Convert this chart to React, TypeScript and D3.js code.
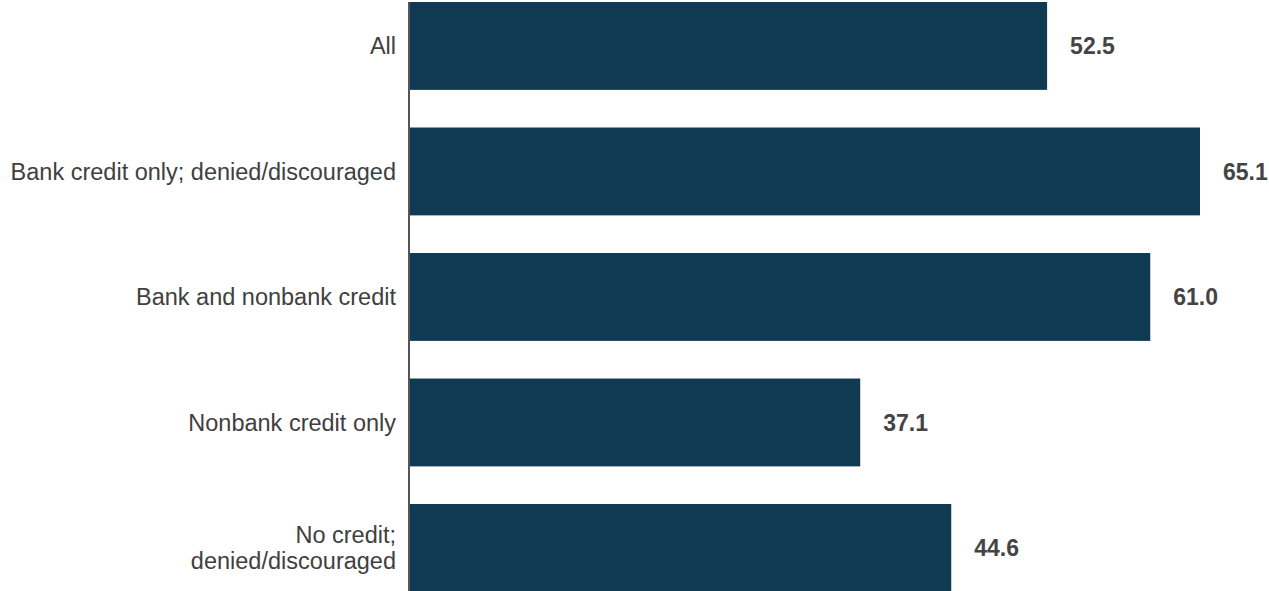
import React from "react";
import * as d3 from "d3";

const categories = [
  ["All"],
  ["Bank credit only; denied/discouraged"],
  ["Bank and nonbank credit"],
  ["Nonbank credit only"],
  ["No credit;", "denied/discouraged"],
];
const values = [52.5, 65.1, 61.0, 37.1, 44.6];

const W = 1269;
const H = 591;
const x0 = 410;

export default function App() {
  const keys = categories.map((c) => c.join(" "));
  const x = d3.scaleLinear().domain([0, 65.1]).range([x0, 1200]);
  const y = d3
    .scaleBand<string>()
    .domain(keys)
    .range([-16.8, 610.7])
    .paddingInner(0.3)
    .paddingOuter(0.15);
  const font = "'Liberation Sans', Arial, Helvetica, sans-serif";
  return (
    <svg
      width={W}
      height={H}
      style={{ position: "absolute", left: 0, top: 0, background: "#fff" }}
      fontFamily={font}
    >
      {keys.map((k, i) => {
        const yb = y(k)!;
        const cy = yb + y.bandwidth() / 2;
        const lines = categories[i];
        return (
          <g key={k}>
            <rect
              x={x(0)}
              y={yb}
              width={x(values[i]) - x(0)}
              height={y.bandwidth()}
              fill="#0f3a52"
            />
            <text
              x={x(values[i]) + 23}
              y={cy}
              dy="0.35em"
              fontSize={23}
              fontWeight="bold"
              fill="#444444"
            >
              {values[i].toFixed(1)}
            </text>
            {lines.map((ln, j) => (
              <text
                key={j}
                x={396}
                y={cy + (j - (lines.length - 1) / 2) * 26.4}
                dy="0.35em"
                textAnchor="end"
                fontSize={23.5}
                fill="#404040"
              >
                {ln}
              </text>
            ))}
          </g>
        );
      })}
      <line x1={409} x2={409} y1={2} y2={H} stroke="#555555" strokeWidth={2} />
    </svg>
  );
}
